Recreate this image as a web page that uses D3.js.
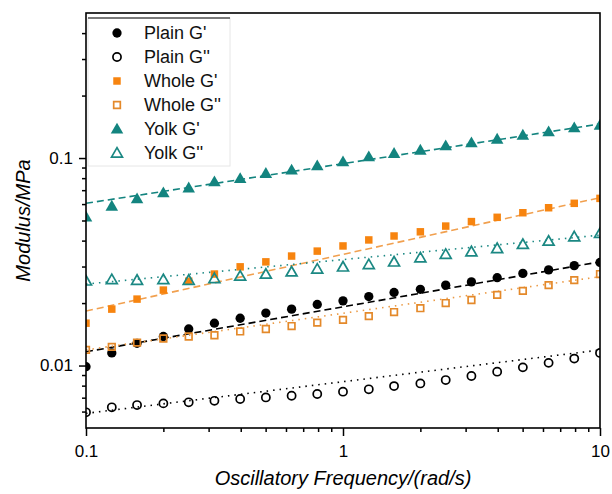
<!DOCTYPE html>
<html>
<head>
<meta charset="utf-8">
<script src="https://cdn.jsdelivr.net/npm/d3@7"></script>
<style>
  body { margin: 0; background: #fff; }
  text { font-family: 'Liberation Sans', Arial, sans-serif; }
</style>
</head>
<body>
<div id="chart"></div>
<script>
// frequency (rad/s)
var freq = [0.1, 0.126, 0.158, 0.2, 0.251, 0.316, 0.398, 0.501, 0.631, 0.794, 1,
  1.26, 1.58, 2, 2.51, 3.16, 3.98, 5.01, 6.31, 7.94, 10];

var plainG1 = [0.00987, 0.0115, 0.0128, 0.0138, 0.015, 0.016, 0.0169, 0.0179, 0.0187, 0.0197, 0.0205,
  0.0215, 0.0225, 0.0233, 0.0244, 0.0253, 0.0265, 0.0278, 0.0289, 0.0303, 0.0314];
var plainG2 = [0.00595, 0.00629, 0.00645, 0.00657, 0.00665, 0.00676, 0.0069, 0.00702, 0.00715, 0.00729, 0.00748,
  0.00768, 0.00796, 0.0082, 0.00851, 0.0089, 0.00934, 0.0098, 0.0103, 0.0108, 0.0115];
var wholeG1 = [0.016, 0.0187, 0.0209, 0.0231, 0.0255, 0.0276, 0.0299, 0.0316, 0.0337, 0.0356, 0.0377,
  0.0403, 0.0421, 0.0441, 0.047, 0.0494, 0.0518, 0.0545, 0.0576, 0.0605, 0.0639];
var wholeG2 = [0.0119, 0.0123, 0.0129, 0.0135, 0.0138, 0.014, 0.0146, 0.015, 0.0155, 0.0161, 0.0166,
  0.0173, 0.0181, 0.0189, 0.02, 0.0207, 0.0219, 0.0229, 0.0244, 0.0258, 0.0276];
var yolkG1 = [0.0521, 0.0587, 0.0637, 0.0681, 0.0719, 0.0769, 0.0798, 0.0844, 0.0876, 0.0918, 0.096,
  0.1015, 0.1054, 0.1093, 0.1146, 0.1185, 0.1235, 0.1291, 0.1339, 0.14, 0.1442];
var yolkG2 = [0.0256, 0.026, 0.0258, 0.026, 0.0258, 0.0263, 0.027, 0.0276, 0.0283, 0.0292, 0.0299,
  0.0307, 0.0316, 0.0331, 0.0344, 0.0354, 0.0367, 0.0384, 0.0398, 0.0418, 0.0434];

// power-law fits, value at 0.1 and at 10 rad/s
var fitFreq = [0.1, 10];
var fitPlainG1 = [0.01165, 0.0316];
var fitPlainG2 = [0.00588, 0.01188];
var fitWholeG1 = [0.0183, 0.0644];
var fitWholeG2 = [0.0119, 0.0268];
var fitYolkG1 = [0.0605, 0.146];
var fitYolkG2 = [0.0247, 0.0425];

var names = ["Plain G'", "Plain G''", "Whole G'", "Whole G''", "Yolk G'", "Yolk G''"];

var xMajor = [0.1, 1, 10];
var yMajor = [0.01, 0.1];
var yTickLabels = ['0.01', '0.1'];
var xTickLabels = ['0.1', '1', '10'];

var series = [
  { name: names[0], vals: plainG1, fit: fitPlainG1, shape: 'circle', fill: '#000', stroke: '#000', dash: '7,4' },
  { name: names[1], vals: plainG2, fit: fitPlainG2, shape: 'circle', fill: 'none', stroke: '#000', dash: '1.5,5' },
  { name: names[2], vals: wholeG1, fit: fitWholeG1, shape: 'square', fill: '#f7840f', stroke: '#f7840f', line: '#f1a04f', dash: '7,4' },
  { name: names[3], vals: wholeG2, fit: fitWholeG2, shape: 'square', fill: 'none', stroke: '#e4892a', line: '#eb9a45', dash: '1.5,5' },
  { name: names[4], vals: yolkG1, fit: fitYolkG1, shape: 'triangle', fill: '#13847f', stroke: '#13847f', dash: '7,4' },
  { name: names[5], vals: yolkG2, fit: fitYolkG2, shape: 'triangle', fill: 'none', stroke: '#1b8883', dash: '1.5,5' }
];

var W = 612, H = 494;
var padL = 86, padR = 600, padT = 13, padB = 428;

var svg = d3.select('#chart').append('svg')
  .attr('width', W)
  .attr('height', H);

var x = d3.scaleLog().domain([0.1, 10]).range([padL, padR]);
var y = d3.scaleLog().domain([0.005, 0.5]).range([padB, padT]);

function minorTicks(lo, hi) {
  var out = [];
  for (var e = Math.floor(Math.log10(lo)); e < Math.ceil(Math.log10(hi)); e++) {
    for (var m = 2; m <= 9; m++) {
      var v = m * Math.pow(10, e);
      if (v > lo * 1.0001 && v < hi * 0.9999) out.push(v);
    }
  }
  return out;
}

svg.append('clipPath').attr('id', 'plotclip')
  .append('rect')
  .attr('x', padL).attr('y', padT)
  .attr('width', padR - padL).attr('height', padB - padT);

var plot = svg.append('g').attr('clip-path', 'url(#plotclip)');

// fit lines
var fitLine = d3.line()
  .x(function (d) { return x(d[0]); })
  .y(function (d) { return y(d[1]); });

series.forEach(function (s) {
  plot.append('path')
    .datum(d3.zip(fitFreq, s.fit))
    .attr('d', fitLine)
    .attr('fill', 'none')
    .attr('stroke', s.line || s.stroke)
    .attr('stroke-width', 1.6)
    .attr('stroke-dasharray', s.dash);
});

var sym = {
  circle: d3.symbol().type(d3.symbolCircle).size(68),
  square: d3.symbol().type(d3.symbolSquare).size(56),
  triangle: d3.symbol().type(d3.symbolTriangle).size(68)
};
var symOpen = {
  circle: d3.symbol().type(d3.symbolCircle).size(52),
  square: d3.symbol().type(d3.symbolSquare).size(44),
  triangle: d3.symbol().type(d3.symbolTriangle).size(52)
};

function drawMarker(g, s, cx, cy) {
  var open = s.fill === 'none';
  g.append('path')
    .attr('d', (open ? symOpen : sym)[s.shape]())
    .attr('transform', 'translate(' + cx + ',' + (cy + (s.shape === 'triangle' ? 1 : 0)) + ')')
    .attr('fill', s.fill)
    .attr('stroke', s.stroke)
    .attr('stroke-width', open ? 1.7 : 0);
}

series.forEach(function (s) {
  s.vals.forEach(function (v, i) {
    drawMarker(plot, s, x(freq[i]), y(v));
  });
});

// axes
var axisG = svg.append('g');

axisG.append('g')
  .attr('transform', 'translate(' + padL + ',0)')
  .call(d3.axisLeft(y).tickValues(yMajor).tickSize(7).tickPadding(6)
    .tickFormat(function (d, i) { return yTickLabels[i]; }));
axisG.append('g')
  .attr('transform', 'translate(' + padL + ',0)')
  .call(d3.axisLeft(y).tickValues(minorTicks(0.005, 0.5)).tickSize(4).tickFormat(''));

axisG.append('g')
  .attr('transform', 'translate(0,' + padB + ')')
  .call(d3.axisBottom(x).tickValues(xMajor).tickSize(8).tickPadding(9)
    .tickFormat(function (d, i) { return xTickLabels[i]; }));
axisG.append('g')
  .attr('transform', 'translate(0,' + padB + ')')
  .call(d3.axisBottom(x).tickValues(minorTicks(0.1, 10)).tickSize(4).tickFormat(''));

axisG.selectAll('.domain').remove();
axisG.selectAll('.tick line').attr('stroke', '#000').attr('stroke-width', 1.5);
axisG.selectAll('.tick text')
  .attr('fill', '#000')
  .style('font-size', '17px')
  .style('font-family', "'Liberation Sans', Arial, sans-serif");

// frame
svg.append('rect')
  .attr('x', padL).attr('y', padT)
  .attr('width', padR - padL).attr('height', padB - padT)
  .attr('fill', 'none')
  .attr('stroke', '#000')
  .attr('stroke-width', 1.6);

// legend
var lg = svg.append('g');
lg.append('rect')
  .attr('x', 88).attr('y', 18)
  .attr('width', 142).attr('height', 148)
  .attr('fill', '#fff')
  .attr('stroke', '#e6e6e6')
  .attr('stroke-width', 1);
lg.append('line')
  .attr('x1', 88).attr('x2', 230)
  .attr('y1', 18).attr('y2', 18)
  .attr('stroke', '#000')
  .attr('stroke-width', 1.2);

series.forEach(function (s, i) {
  var cy = 33 + i * 24;
  drawMarker(lg, s, 117, cy);
  lg.append('text')
    .attr('x', 144)
    .attr('y', cy + 6)
    .style('font-size', '18px')
    .attr('fill', '#111')
    .text(s.name);
});

// titles
svg.append('text')
  .attr('x', (padL + padR) / 2)
  .attr('y', 485)
  .attr('text-anchor', 'middle')
  .style('font-size', '20px')
  .style('font-style', 'italic')
  .text('Oscillatory Frequency/(rad/s)');

svg.append('text')
  .attr('transform', 'translate(30,' + (padT + padB) / 2 + ') rotate(-90)')
  .attr('text-anchor', 'middle')
  .style('font-size', '20px')
  .style('font-style', 'italic')
  .text('Modulus/MPa');
</script>
</body>
</html>
